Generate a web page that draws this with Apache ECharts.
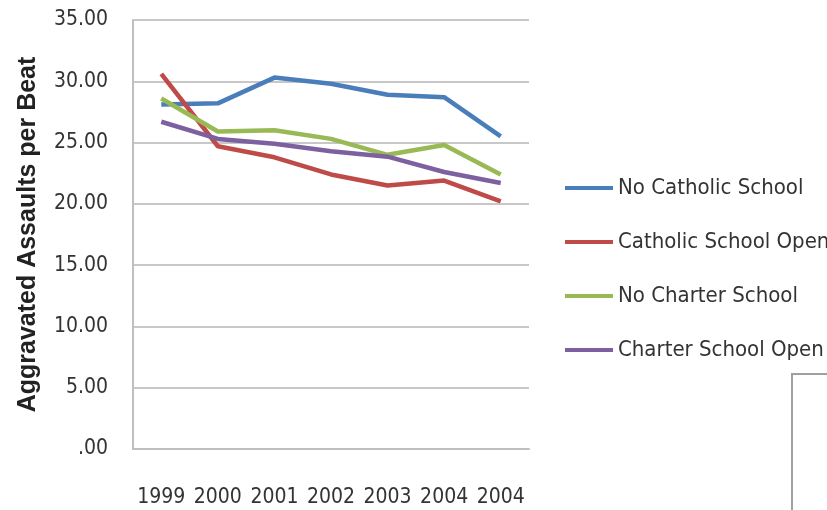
<!DOCTYPE html>
<html>
<head>
<meta charset="utf-8">
<script src="https://cdn.jsdelivr.net/npm/echarts@6/dist/echarts.min.js"></script>
<style>html,body{margin:0;padding:0;background:#fff;}#c{width:827px;height:510px;}</style>
</head>
<body>
<div id="c"></div>
<script>
var categories = ['1999', '2000', '2001', '2002', '2003', '2004', '2004'];
var noCatholic = [28.1, 28.2, 30.3, 29.8, 28.9, 28.7, 25.5];
var catholicOpen = [30.6, 24.7, 23.8, 22.4, 21.5, 21.9, 20.2];
var noCharter = [28.6, 25.9, 26.0, 25.3, 24.0, 24.8, 22.4];
var charterOpen = [26.7, 25.3, 24.9, 24.3, 23.85, 22.6, 21.7];
var yTicks = [0, 5, 10, 15, 20, 25, 30, 35];

var FONT = "'Liberation Sans Narrow', 'DejaVu Sans Condensed', 'Liberation Sans', sans-serif";
var chart = echarts.init(document.getElementById('c'));
function fmt(v) { return v === 0 ? '.00' : v.toFixed(2); }
var series = [
  {name: 'No Catholic School', data: noCatholic, color: '#4A7EBB'},
  {name: 'Catholic School Open', data: catholicOpen, color: '#BE4B48'},
  {name: 'No Charter School', data: noCharter, color: '#98B954'},
  {name: 'Charter School Open', data: charterOpen, color: '#7D60A0'}
].map(function (s) {
  return {
    name: s.name, type: 'line', data: s.data, showSymbol: false, symbol: 'none',
    lineStyle: {width: 4.5, color: s.color}, itemStyle: {color: s.color}, animation: false
  };
});
chart.setOption({
  animation: false,
  grid: {left: 133, top: 20, width: 396, height: 429, containLabel: false},
  xAxis: {
    type: 'category', data: categories, boundaryGap: true,
    axisLine: {lineStyle: {color: '#BFBFBF', width: 2}},
    axisTick: {show: false},
    axisLabel: {color: '#333', fontFamily: FONT, fontSize: 21, margin: 38, interval: 0}
  },
  yAxis: {
    type: 'value', min: yTicks[0], max: yTicks[yTicks.length - 1], interval: 5,
    name: 'Aggravated Assaults per Beat', nameLocation: 'middle', nameGap: 92,
    nameTextStyle: {fontFamily: "'Liberation Sans', Arial, sans-serif", fontWeight: 'bold', fontSize: 25, color: '#222'},
    axisLine: {show: true, lineStyle: {color: '#BFBFBF', width: 2}},
    axisTick: {show: false},
    splitLine: {lineStyle: {color: '#C8C8C8', width: 2}},
    axisLabel: {color: '#333', fontFamily: FONT, fontSize: 21, margin: 25, formatter: fmt}
  },
  legend: {
    orient: 'vertical', left: 560, top: 170, icon: 'rect', itemWidth: 48, itemHeight: 4,
    itemGap: 28, selectedMode: false,
    textStyle: {fontFamily: FONT, fontSize: 22, color: '#333', lineHeight: 26},
    data: series.map(function (s) { return s.name; })
  },
  graphic: [{
    type: 'rect', shape: {x: 792, y: 374, width: 60, height: 160},
    style: {fill: 'none', stroke: '#A0A0A0', lineWidth: 2}, silent: true
  }],
  series: series
});
</script>
</body>
</html>
